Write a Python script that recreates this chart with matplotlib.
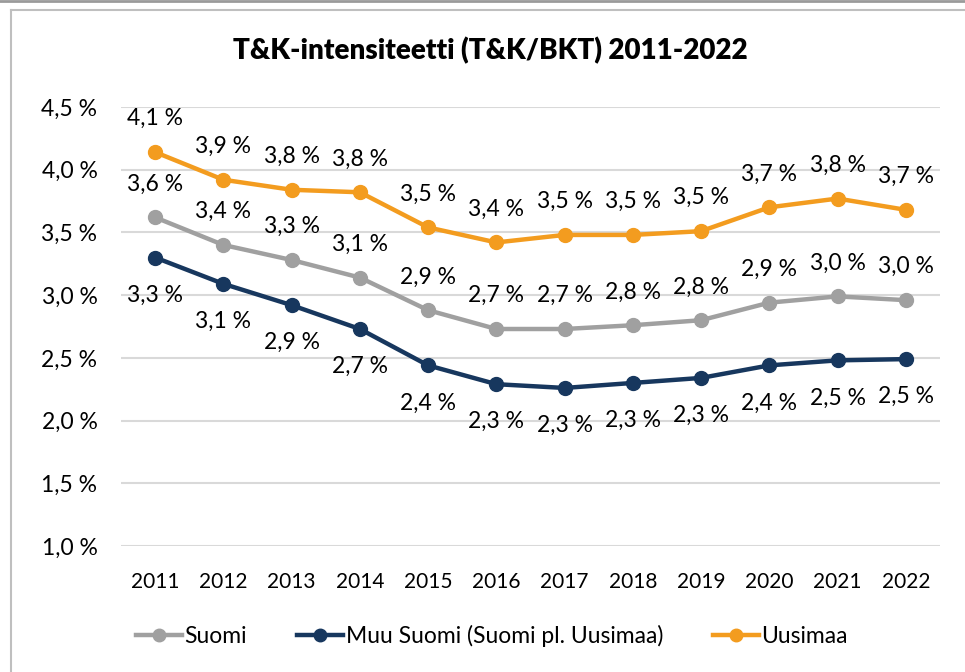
import matplotlib
matplotlib.use("Agg")
import matplotlib.pyplot as plt
from matplotlib.lines import Line2D

plt.rcParams['font.family'] = ['Lato', 'DejaVu Sans']

years = ["2011", "2012", "2013", "2014", "2015", "2016", "2017", "2018", "2019", "2020", "2021", "2022"]
suomi = [3.62, 3.40, 3.28, 3.14, 2.88, 2.73, 2.73, 2.76, 2.80, 2.94, 2.99, 2.96]
muu_suomi = [3.30, 3.09, 2.92, 2.73, 2.44, 2.29, 2.26, 2.30, 2.34, 2.44, 2.48, 2.49]
uusimaa = [4.14, 3.92, 3.84, 3.82, 3.54, 3.42, 3.48, 3.48, 3.51, 3.70, 3.77, 3.68]
yticks = [1.0, 1.5, 2.0, 2.5, 3.0, 3.5, 4.0, 4.5]

c_gray = "#A0A0A0"
c_navy = "#17375E"
c_orange = "#F39C1F"

fig = plt.figure(figsize=(9.65, 6.72), dpi=100)
ax = fig.add_axes([0.1254, 0.1875, 0.8486, 0.6533])

x = list(range(len(years)))

def fmt(v):
    return f"{v:.1f}".replace(".", ",") + " %"

series = [
    (suomi, c_gray, "Suomi", 24),
    (muu_suomi, c_navy, "Muu Suomi (Suomi pl. Uusimaa)", -27),
    (uusimaa, c_orange, "Uusimaa", 24),
]
for vals, col, lab, off in series:
    ax.plot(x, vals, color=col, lw=3.2, marker="o", ms=10, label=lab, zorder=3)
    for xi, v in zip(x, vals):
        ax.annotate(fmt(v), (xi, v), xytext=(0, off), textcoords="offset points",
                    ha="center", va="center", fontsize=16.5, color="black", zorder=4)

ax.set_xlim(-0.5, len(years) - 0.5)
ax.set_ylim(1.0, 4.5)
ax.set_yticks(yticks)
ax.set_yticklabels([fmt(t) for t in yticks], fontsize=16.5)
ax.set_xticks(x)
ax.set_xticklabels(years, fontsize=15)
ax.tick_params(axis="both", length=0)
ax.tick_params(axis="y", pad=17)
ax.tick_params(axis="x", pad=19)
ax.yaxis.grid(True, color="#D9D9D9", lw=1.5)
ax.set_axisbelow(True)
for s in ax.spines.values():
    s.set_visible(False)

fig.text(0.508, 0.925, "T&K-intensiteetti (T&K/BKT) 2011-2022", ha="center", va="center",
         fontsize=20, fontweight="heavy")

handles = [Line2D([0], [0], color=c, lw=3.2, marker="o", ms=9) for c in (c_gray, c_navy, c_orange)]
fig.legend(handles, ["Suomi", "Muu Suomi (Suomi pl. Uusimaa)", "Uusimaa"], loc="center",
           bbox_to_anchor=(0.51, 0.053), ncol=3, frameon=False, fontsize=16.5,
           handlelength=2.0, handletextpad=0.1, columnspacing=2.2)

# outer frame lines
fig.add_artist(Line2D([0, 1], [0.999, 0.999], transform=fig.transFigure, color="#9A9A9A", lw=2))
fig.add_artist(Line2D([0.011, 0.011], [0, 0.985], transform=fig.transFigure, color="#BFBFBF", lw=1.5))
fig.add_artist(Line2D([0.011, 1], [0.985, 0.985], transform=fig.transFigure, color="#BFBFBF", lw=1.5))

fig.savefig("out.png", dpi=100)
